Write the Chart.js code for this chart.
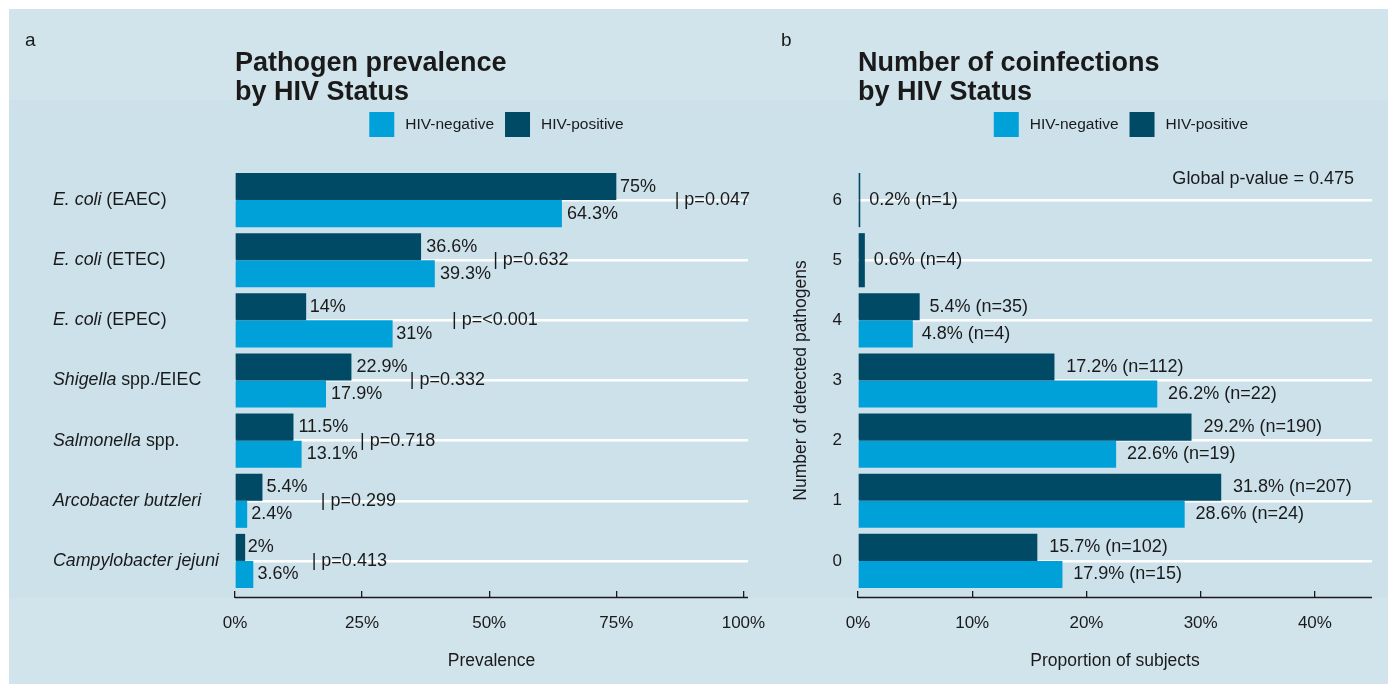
<!DOCTYPE html>
<html>
<head>
<meta charset="utf-8">
<script src="https://cdn.jsdelivr.net/npm/chart.js@4.4.1/dist/chart.umd.min.js"></script>
<style>
  html, body { margin: 0; padding: 0; background: #ffffff; width: 1391px; height: 684px; overflow: hidden; }
  #bg   { position: absolute; left: 9px; top: 9px; width: 1379px; height: 675px; background: #d1e4ec; }
  #band { position: absolute; left: 9px; top: 100px; width: 1379px; height: 498px; background: #cde1eb; }
  #wrapA { position: absolute; left: 0; top: 0; width: 770px; height: 684px; }
  #wrapB { position: absolute; left: 770px; top: 0; width: 621px; height: 684px; }
  canvas { display: block; }
</style>
</head>
<body>
<div id="bg"></div>
<div id="band"></div>
<div id="wrapA"><canvas id="chartA" width="770" height="684"></canvas></div>
<div id="wrapB"><canvas id="chartB" width="621" height="684"></canvas></div>
<script>
// ---- Panel a: pathogen prevalence ----
const pathogens = ['E. coli (EAEC)', 'E. coli (ETEC)', 'E. coli (EPEC)', 'Shigella spp./EIEC',
                   'Salmonella spp.', 'Arcobacter butzleri', 'Campylobacter jejuni'];
const pathogenItalic = ['E. coli', 'E. coli', 'E. coli', 'Shigella', 'Salmonella',
                        'Arcobacter butzleri', 'Campylobacter jejuni'];
const prevPositive = [75, 36.6, 14, 22.9, 11.5, 5.4, 2];
const prevNegative = [64.3, 39.3, 31, 17.9, 13.1, 2.4, 3.6];
const pValues = ['0.047', '0.632', '<0.001', '0.332', '0.718', '0.299', '0.413'];
const prevTicks = [0, 25, 50, 75, 100];

// ---- Panel b: number of coinfections ----
const pathogenCounts = ['6', '5', '4', '3', '2', '1', '0'];
const coinfPositivePct = [0.2, 0.6, 5.4, 17.2, 29.2, 31.8, 15.7];
const coinfPositiveN = [1, 4, 35, 112, 190, 207, 102];
const coinfNegativePct = [null, null, 4.8, 26.2, 22.6, 28.6, 17.9];
const coinfNegativeN = [null, null, 4, 22, 19, 24, 15];
const propTicks = [0, 10, 20, 30, 40];
const globalP = '0.475';

const FONT = '"Liberation Sans", Arial, Helvetica, sans-serif';
const TXT = '#1a1a1a';
const DARK = '#004a66';
const LIGHT = '#00a0d9';

Chart.defaults.font.family = FONT;
Chart.defaults.color = TXT;

function drawHeader(ctx, area, tag, tagX, lines) {
  ctx.save();
  ctx.fillStyle = TXT;
  ctx.textAlign = 'left';
  ctx.textBaseline = 'alphabetic';
  ctx.font = '19px ' + FONT;
  ctx.fillText(tag, tagX, 46);
  ctx.font = 'bold 27px ' + FONT;
  ctx.fillText(lines[0], area.left, 71);
  ctx.fillText(lines[1], area.left, 100);
  ctx.restore();
}

function drawLegend(ctx, cx, cy) {
  const items = [['HIV-negative', LIGHT], ['HIV-positive', DARK]];
  ctx.save();
  ctx.font = '15.5px ' + FONT;
  const sq = 25, gap = 11;
  let total = 0;
  items.forEach((it, i) => { total += sq + gap + ctx.measureText(it[0]).width + (i ? 0 : gap); });
  let x = cx - total / 2;
  ctx.textBaseline = 'middle';
  ctx.textAlign = 'left';
  items.forEach(it => {
    ctx.fillStyle = it[1];
    ctx.fillRect(x, cy - sq / 2, sq, sq);
    x += sq + gap;
    ctx.fillStyle = TXT;
    ctx.fillText(it[0], x, cy);
    x += ctx.measureText(it[0]).width + gap;
  });
  ctx.restore();
}

function drawAxisLine(chart) {
  const {ctx, chartArea} = chart;
  const y = chartArea.bottom + 6.5;
  ctx.save();
  ctx.strokeStyle = TXT;
  ctx.lineWidth = 1.3;
  ctx.beginPath();
  ctx.moveTo(chartArea.left, y);
  ctx.lineTo(chartArea.right, y);
  ctx.stroke();
  ctx.restore();
}

function drawBarLabels(chart, fmt) {
  const ctx = chart.ctx;
  ctx.save();
  ctx.font = '18px ' + FONT;
  ctx.fillStyle = TXT;
  ctx.textAlign = 'left';
  ctx.textBaseline = 'middle';
  chart.data.datasets.forEach((ds, di) => {
    const meta = chart.getDatasetMeta(di);
    meta.data.forEach((el, i) => {
      const v = ds.data[i];
      if (v === null || v === undefined) return;
      const t = fmt(di, i, v);
      const w = ctx.measureText(t).width;
      ctx.fillText(t, el.x + 0.1 * w, el.y);
    });
  });
  ctx.restore();
}

const panelA = {
  id: 'panelA',
  afterDatasetsDraw(chart) {
    const {ctx, scales} = chart;
    drawAxisLine(chart);
    // category labels, genus/species part in italics
    ctx.save();
    ctx.fillStyle = TXT;
    ctx.textBaseline = 'middle';
    ctx.textAlign = 'left';
    pathogens.forEach((name, i) => {
      const y = scales.y.getPixelForValue(i);
      const it = pathogenItalic[i];
      const rest = name.slice(it.length);
      ctx.font = 'italic 17.8px ' + FONT;
      ctx.fillText(it, 53, y);
      const w = ctx.measureText(it).width;
      ctx.font = '17.8px ' + FONT;
      ctx.fillText(rest, 53 + w, y);
    });
    ctx.restore();
    drawBarLabels(chart, (di, i, v) => v + '%');
    // p-values beside each pair of bars
    ctx.save();
    ctx.font = '18px ' + FONT;
    ctx.fillStyle = TXT;
    ctx.textBaseline = 'middle';
    ctx.textAlign = 'left';
    pValues.forEach((p, i) => {
      const t = '| p=' + p;
      const w = ctx.measureText(t).width;
      const x = scales.x.getPixelForValue(Math.max(prevPositive[i], prevNegative[i]) + 10);
      ctx.fillText(t, x + 0.1 * w, scales.y.getPixelForValue(i));
    });
    ctx.restore();
  },
  afterDraw(chart) {
    const {ctx, chartArea} = chart;
    drawHeader(ctx, chartArea, 'a', 25, ['Pathogen prevalence', 'by HIV Status']);
    drawLegend(ctx, (chartArea.left + chartArea.right) / 2 + 5, 124.5);
  }
};

const panelB = {
  id: 'panelB',
  afterDatasetsDraw(chart) {
    const {ctx, chartArea} = chart;
    drawAxisLine(chart);
    drawBarLabels(chart, (di, i, v) => {
      const n = di === 0 ? coinfPositiveN[i] : coinfNegativeN[i];
      return v + '% (n=' + n + ')';
    });
    ctx.save();
    ctx.font = '18px ' + FONT;
    ctx.fillStyle = TXT;
    ctx.textAlign = 'right';
    ctx.textBaseline = 'middle';
    ctx.fillText('Global p-value = ' + globalP, chartArea.right - 18, chartArea.top + 9);
    ctx.restore();
  },
  afterDraw(chart) {
    const {ctx, chartArea} = chart;
    drawHeader(ctx, chartArea, 'b', 11, ['Number of coinfections', 'by HIV Status']);
    drawLegend(ctx, (chartArea.left + chartArea.right) / 2 + 6, 124.5);
  }
};

function xScale(max, ticks, title) {
  return {
    type: 'linear', min: 0, max: max,
    afterBuildTicks: s => { s.ticks = ticks.map(v => ({value: v})); },
    afterFit: s => { s.height = 93; s.paddingLeft = 0; s.paddingRight = 0; },
    grid: {drawOnChartArea: false, drawTicks: true, tickLength: 7, color: TXT, lineWidth: 1.3},
    border: {display: false},
    ticks: {padding: 15, font: {size: 17}, color: TXT, maxRotation: 0, callback: v => v + '%'},
    title: {display: true, text: title, font: {size: 17.5}, color: TXT, padding: {top: 0, bottom: 12}}
  };
}

const common = {
  indexAxis: 'y',
  responsive: false,
  animation: false,
  devicePixelRatio: 1,
  plugins: {legend: {display: false}, tooltip: {enabled: false}, title: {display: false}},
  datasets: {bar: {categoryPercentage: 0.9, barPercentage: 1, borderWidth: 0, skipNull: true}}
};

new Chart(document.getElementById('chartA'), {
  type: 'bar',
  data: {
    labels: pathogens,
    datasets: [
      {label: 'HIV-positive', data: prevPositive, backgroundColor: DARK},
      {label: 'HIV-negative', data: prevNegative, backgroundColor: LIGHT}
    ]
  },
  options: Object.assign({}, common, {
    layout: {padding: {left: 53, right: 22, top: 170, bottom: 0}},
    scales: {
      x: xScale(100.9, prevTicks, 'Prevalence'),
      y: {
        afterFit: s => { s.width = 182; },
        grid: {offset: false, color: '#ffffff', lineWidth: 2.5, drawTicks: false},
        border: {display: false},
        ticks: {display: false}
      }
    }
  }),
  plugins: [panelA]
});

new Chart(document.getElementById('chartB'), {
  type: 'bar',
  data: {
    labels: pathogenCounts,
    datasets: [
      {label: 'HIV-positive', data: coinfPositivePct, backgroundColor: DARK},
      {label: 'HIV-negative', data: coinfNegativePct, backgroundColor: LIGHT}
    ]
  },
  options: Object.assign({}, common, {
    layout: {padding: {left: 0, right: 19, top: 170, bottom: 0}},
    scales: {
      x: xScale(45, propTicks, 'Proportion of subjects'),
      y: {
        afterFit: s => { s.width = 88; },
        grid: {offset: false, color: '#ffffff', lineWidth: 2.5, drawTicks: false},
        border: {display: false},
        ticks: {padding: 16, font: {size: 17}, color: TXT},
        title: {display: true, text: 'Number of detected pathogens', font: {size: 17.5}, color: TXT,
                padding: {top: 21, bottom: 0}}
      }
    }
  }),
  plugins: [panelB]
});
</script>
</body>
</html>
